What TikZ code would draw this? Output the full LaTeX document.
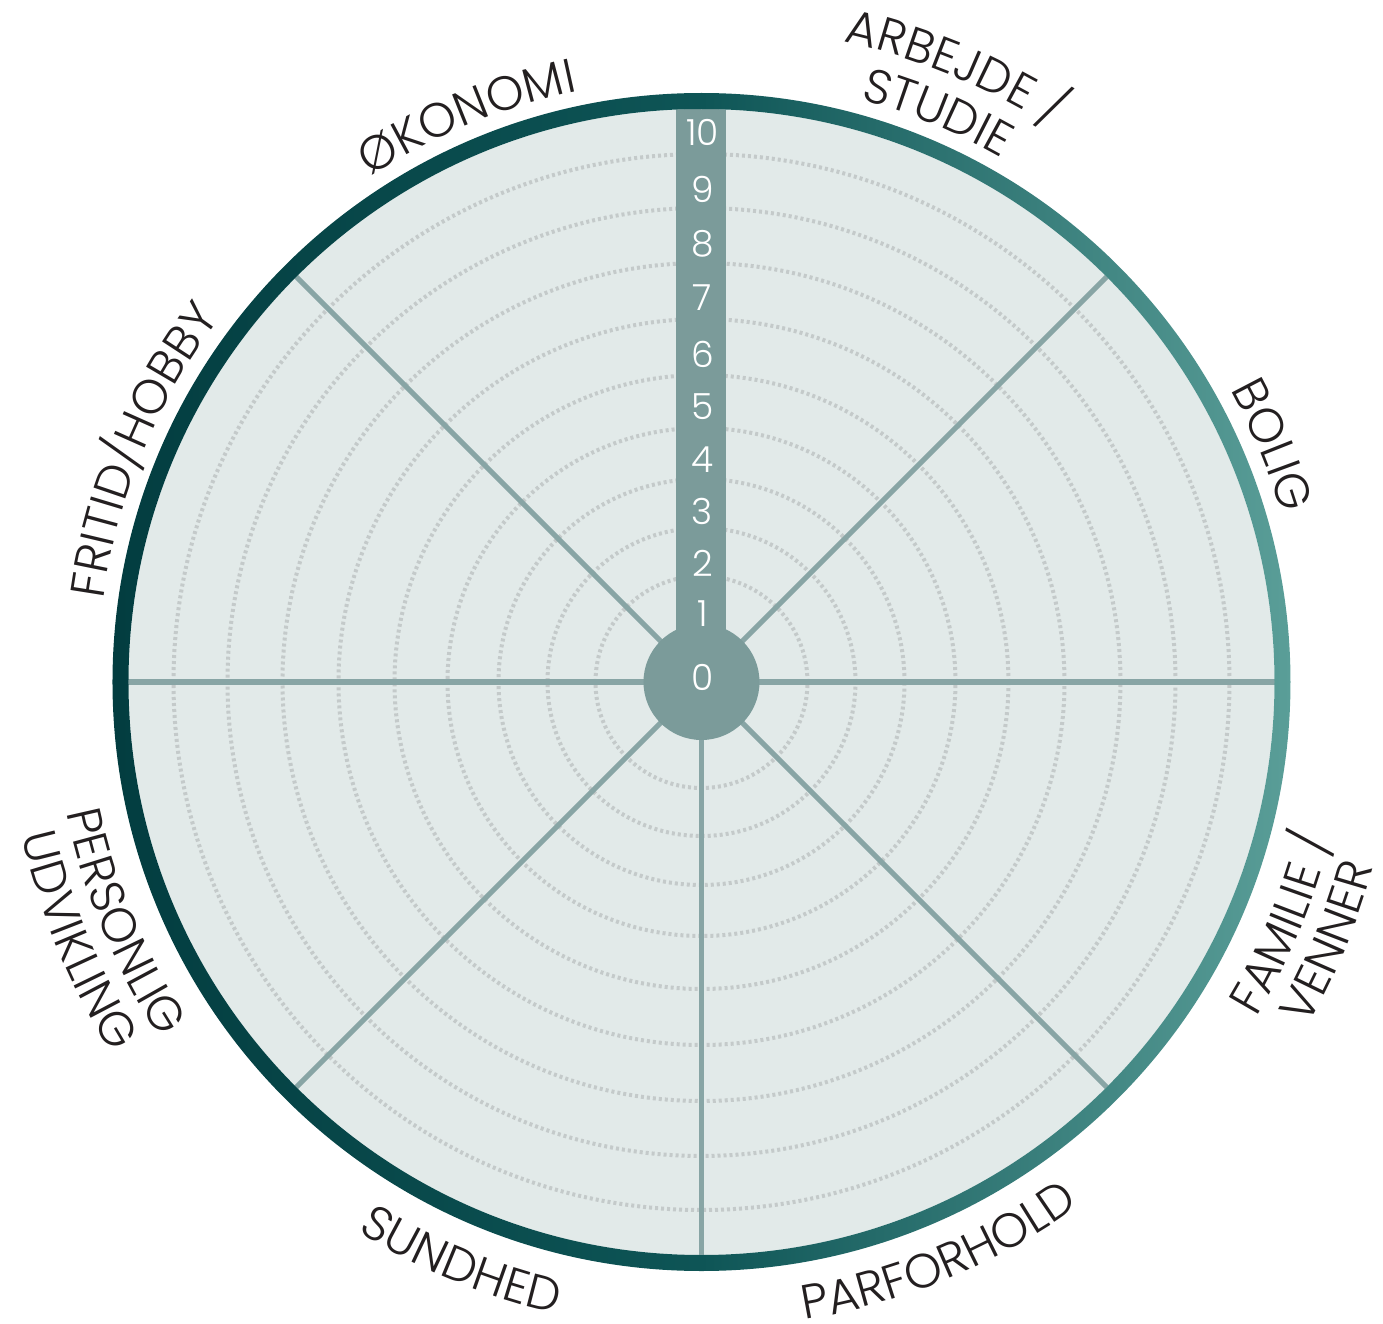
\documentclass[tikz,border=0pt]{standalone}
\usepackage{fontspec}
\IfFontExistsTF{Poppins Light}{\setmainfont{Poppins Light}}{\setmainfont{Poppins}}
\usetikzlibrary{decorations.text}

\definecolor{ringdark}{HTML}{033D40}
\definecolor{ringmid}{HTML}{0E5556}
\definecolor{ringlight}{HTML}{5A9E98}
\definecolor{wheelfill}{HTML}{E2EAE9}
\definecolor{spokecol}{HTML}{88A5A5}
\definecolor{barcol}{HTML}{7B9B9A}
\definecolor{dotcol}{HTML}{C4CACA}
\definecolor{labelcol}{HTML}{231F20}

\newcommand\labelfont{\fontsize{24}{29}\selectfont}
\newcommand\numfont{\fontsize{18}{22}\selectfont}

\tikzset{
  ringlabel/.style={decorate, decoration={text along path, text align=center,
      text color=labelcol, text={|\labelfont|#1}}},
  numlabel/.style={text=white, inner sep=0pt, font=\numfont},
  levelring/.style={dotcol, line width=2pt, dash pattern=on 1.5pt off 1.5pt},
  spoke/.style={spokecol, line width=2.6pt}
}

% upper labels run clockwise, lower labels counterclockwise
\newcommand\toplabel[3]{\path[ringlabel={#3}] ({#1+40}:#2) arc[start angle={#1+40}, end angle={#1-40}, radius=#2];}
\newcommand\bottomlabel[3]{\path[ringlabel={#3}] ({#1-40}:#2) arc[start angle={#1-40}, end angle={#1+40}, radius=#2];}

\begin{document}
\begin{tikzpicture}[x=0.5pt, y=0.5pt]

\useasboundingbox (-701.5,-642) rectangle (681.5,682);

\coordinate (hub) at (0,0);

% Wheel background
\fill[wheelfill] (hub) circle (573);

% Dotted level circles
\foreach \r in {106,154,203,254,307,363,419,474,528}
  \draw[levelring] (hub) circle (\r);

% Spokes
\foreach \a in {0,45,135,180,225,270,315}
  \draw[spoke] (hub) -- (\a:573);

% Scale bar and hub
\begin{scope}
  \clip (hub) circle (573);
  \fill[barcol] (-25,0) rectangle (25,600);
\end{scope}
\fill[barcol] (hub) circle (58);

% Scale numbers
\foreach \r [count=\i from 0] in {4.5,68,119,171,222,275,328,384.5,438.5,493,550}
  \node[numlabel] (num\i) at (1,\r) {\i};

% Outer ring
\shade[left color=ringdark, right color=ringlight, middle color=ringmid, even odd rule]
  (hub) circle (589) circle (573);

% Area labels
\toplabel{112.5}{604}{ØKONOMI}
\toplabel{67.5}{656}{ARBEJDE /}
\toplabel{67.5}{604}{STUDIE}
\toplabel{22.5}{604}{BOLIG}
\toplabel{157.5}{604}{FRITID/HOBBY}
\bottomlabel{-22.5}{648}{FAMILIE /}
\bottomlabel{-22.5}{697}{VENNER}
\bottomlabel{-67.5}{646}{PARFORHOLD}
\bottomlabel{-112.5}{648}{SUNDHED}
\bottomlabel{-157.5}{648}{PERSONLIG}
\bottomlabel{-157.5}{697}{UDVIKLING}

\end{tikzpicture}
\end{document}
